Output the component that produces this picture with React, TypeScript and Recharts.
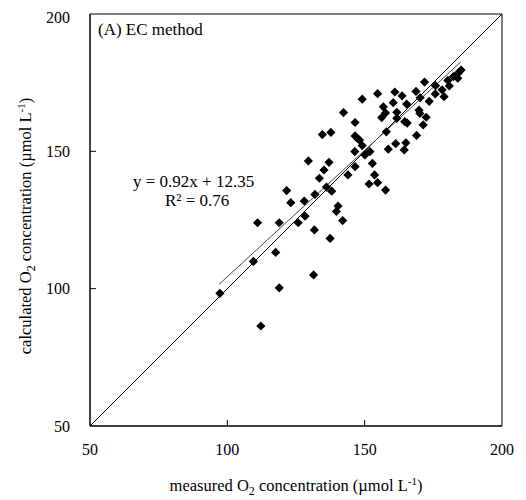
import { ScatterChart, Scatter, XAxis, YAxis, ReferenceLine, ReferenceArea } from "recharts";

const measured = [
  97.3, 109.5, 117.6, 118.9, 112.2, 131.4, 121.6, 123.1, 111.0, 118.9,
  125.8, 129.5, 137.0, 135.2, 133.5, 136.1, 138.0, 131.9, 128.0, 128.3,
  140.3, 139.7, 142.0, 131.7, 137.4, 143.9, 146.5, 146.4, 150.1, 151.9,
  152.8, 153.6, 151.6, 154.7, 157.6, 154.7, 149.1, 142.3, 146.5, 156.8,
  157.6, 156.2, 134.6, 137.7, 146.5, 147.4, 148.1, 149.1, 157.9, 158.6,
  185.1, 184.0, 182.3, 180.3, 183.9, 180.8, 178.2, 175.8, 175.7, 178.9,
  171.8, 168.7, 170.2, 173.5, 161.0, 163.6, 160.4, 165.3, 161.7, 161.7,
  169.8, 170.1, 172.4, 164.6, 165.5, 171.3, 168.9, 161.3, 165.0, 164.4,
];
const calculated = [
  98.3, 109.9, 113.2, 100.3, 86.4, 105.0, 135.7, 131.3, 124.0, 124.0,
  124.0, 146.5, 146.0, 143.2, 140.2, 137.0, 135.5, 134.3, 131.9, 126.4,
  130.1, 128.1, 124.8, 121.4, 118.3, 141.4, 144.4, 149.9, 148.7, 149.9,
  145.6, 141.4, 138.1, 138.6, 135.9, 171.0, 169.0, 164.1, 160.5, 166.2,
  164.0, 162.3, 156.1, 156.9, 155.6, 154.7, 154.1, 152.1, 157.1, 150.8,
  179.6, 178.4, 177.2, 175.8, 176.6, 173.8, 172.4, 173.9, 170.9, 169.9,
  175.2, 171.8, 169.5, 168.2, 171.6, 170.2, 167.7, 167.2, 164.2, 162.0,
  165.0, 163.8, 162.4, 160.8, 160.3, 159.6, 155.8, 152.8, 153.1, 150.5,
];
const axisTicks = [50, 100, 150, 200];
const slope = 0.92;
const intercept = 12.35;
const fitRange = [97, 185];

const points = measured.map((x, i) => ({ x, y: calculated[i] }));

const W = 518;
const H = 492;
const LEFT = 82;
const TOP = 6;
const RIGHT = 494;
const BOTTOM = 418;
const FONT = "'Liberation Serif', 'Times New Roman', serif";

const Diamond = (props: any) => {
  const { cx, cy } = props;
  const r = 4.6;
  return (
    <polygon
      points={`${cx},${cy - r} ${cx + r},${cy} ${cx},${cy + r} ${cx - r},${cy}`}
      fill="#000"
    />
  );
};

const XTick = ({ x, payload }: any) => (
  <g>
    {payload.value > 50 && payload.value < 200 && (
      <line x1={x} x2={x} y1={BOTTOM} y2={BOTTOM - 6} stroke="#000" />
    )}
    <text x={x} y={447} textAnchor="middle" fontSize={16} fontFamily={FONT} fill="#000">
      {payload.value}
    </text>
  </g>
);

const YTick = ({ y, payload }: any) => (
  <g>
    {payload.value > 50 && payload.value < 200 && (
      <line x1={LEFT} x2={LEFT + 6} y1={y} y2={y} stroke="#000" />
    )}
    <text x={62} y={y + 5.5} textAnchor="end" fontSize={16} fontFamily={FONT} fill="#000">
      {payload.value}
    </text>
  </g>
);

export default function App() {
  const midX = (LEFT + RIGHT) / 2;
  const midY = (TOP + BOTTOM) / 2;
  return (
    <div style={{ position: "relative", width: W, height: H }}>
      <ScatterChart
        width={W}
        height={H}
        margin={{ top: TOP, right: W - RIGHT, bottom: 14, left: 22 }}
      >
        <XAxis
          type="number"
          dataKey="x"
          domain={[50, 200]}
          ticks={axisTicks}
          height={60}
          tickLine={false}
          axisLine={{ stroke: "#000" }}
          tick={<XTick />}
        />
        <YAxis
          type="number"
          dataKey="y"
          domain={[50, 200]}
          ticks={axisTicks}
          width={60}
          tickLine={false}
          axisLine={{ stroke: "#000" }}
          tick={<YTick />}
        />
        <ReferenceArea x1={50} x2={200} y1={50} y2={200} fill="none" stroke="#000" />
        <ReferenceLine
          segment={[
            { x: 50, y: 50 },
            { x: 200, y: 200 },
          ]}
          stroke="#000"
        />
        <ReferenceLine
          segment={[
            { x: fitRange[0], y: slope * fitRange[0] + intercept },
            { x: fitRange[1], y: slope * fitRange[1] + intercept },
          ]}
          stroke="#444"
        />
        <Scatter data={points} shape={<Diamond />} isAnimationActive={false} />
      </ScatterChart>
      <svg
        width={W}
        height={H}
        style={{ position: "absolute", left: 0, top: 0, pointerEvents: "none" }}
        fontFamily={FONT}
        fill="#000"
      >
        <text x={90} y={27} fontSize={17}>(A) EC method</text>
        <text x={125} y={179} fontSize={17}>y = 0.92x + 12.35</text>
        <text x={157} y={198} fontSize={17}>R² = 0.76</text>
        <text x={midX} y={483} textAnchor="middle" fontSize={16.5}>
          measured O<tspan fontSize={12} dy={4}>2</tspan>
          <tspan dy={-4}> concentration (µmol L</tspan>
          <tspan fontSize={11} dy={-6}>-1</tspan>
          <tspan dy={6}>)</tspan>
        </text>
        <text
          x={0}
          y={0}
          textAnchor="middle"
          fontSize={16.5}
          transform={`translate(23, ${midY + 6}) rotate(-90)`}
        >
          calculated O<tspan fontSize={12} dy={4}>2</tspan>
          <tspan dy={-4}> concentration (µmol L</tspan>
          <tspan fontSize={11} dy={-6}>-1</tspan>
          <tspan dy={6}>)</tspan>
        </text>
      </svg>
    </div>
  );
}
